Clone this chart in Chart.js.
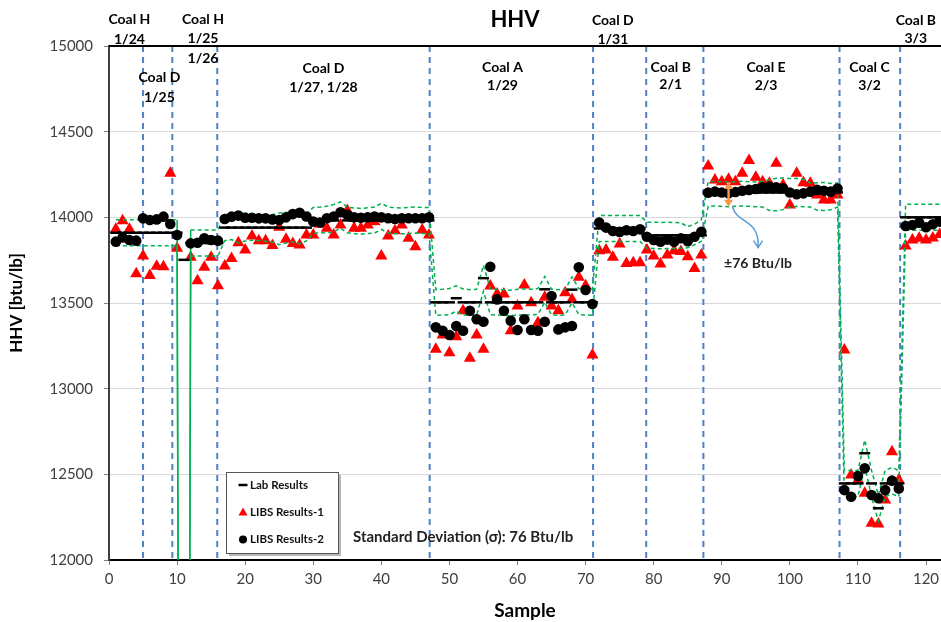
<!DOCTYPE html>
<html>
<head>
<meta charset="utf-8">
<title>HHV</title>
<script src="https://cdn.jsdelivr.net/npm/chart.js@4.4.1/dist/chart.umd.min.js"></script>
<style>
  html, body { margin: 0; padding: 0; background: #fff; overflow: hidden; }
  /* a little wider than the window: the plot runs off the right edge like the original */
  #wrap { position: relative; width: 949px; height: 622px; }
</style>
</head>
<body>
<div id="wrap"><canvas id="hhv-chart"></canvas></div>
<script>
// --- data (HHV in Btu/lb, one value per sample 1..122) ---
const samples = Array.from({ length: 122 }, (_, i) => i + 1);

const labResults = [
  13910, 13910, 13910, 13910, 13910, 13910, 13910, 13910, 13910, 13910, // 1-10
  13752,                                                                 // 11
  13850, 13850, 13850, 13850, 13850,                                     // 12-16
  13940, 13940, 13940, 13940, 13940, 13940, 13940, 13940, 13940, 13940, 13940, 13940, 13940, // 17-29
  13982, 13982, 13982, 13982, 14012, 13982, 13982, 13982, 13982, 13982, 14005, // 30-40
  13982, 13982, 13982, 13982, 13982, 13982, 13982,                       // 41-47
  13504, 13504, 13504, 13528, 13504, 13504, 13504, 13645, 13504, 13504, 13504, 13504, // 48-59
  13504, 13504, 13504, 13504, 13580, 13504, 13504, 13504, 13578, 13504, 13504, 13504, // 60-71
  13935, 13935, 13935, 13935, 13935, 13935, 13935,                       // 72-78
  13895, 13895, 13895, 13895, 13895, 13895, 13895, 13895, 13895,         // 79-87
  14145, 14145, 14145, 14145, 14145, 14145, 14145, 14145, 14145, 14145,  // 88-97
  14145, 14145, 14145, 14145, 14145, 14145, 14145, 14145, 14145, 14145,  // 98-107
  12447, 12447, 12447, 12623, 12447, 12302, 12447, 12447, 12447,         // 108-116
  14000, 14000, 14000, 14000, 14000, 14000                               // 117-122
];

const libsResults1 = [
  13930, 13980, 13930, 13670, 13775, 13660, 13715, 13712, 14257, 13819,  // 1-10
  null, 13767, 13630, 13708, 13767, 13600, 13716, 13760, 13852, 13809,   // 11-20
  13891, 13864, 13864, 13835, 13942, 13872, 13848, 13838, 13897, 13897,  // 21-30
  13960, 13936, 13897, 13955, 14040, 13936, 13936, 13955, 13974, 13774,  // 31-40
  13891, 13922, 13955, 13878, 13829, 13926, 13897,                       // 41-47
  13230, 13313, 13210, 13303, 13455, 13177, 13313, 13230, 13599, 13553,  // 48-57
  13553, 13338, 13482, 13605, 13502, 13385, 13533, 13482, 13455, 13560,  // 58-67
  13521, 13650, 13600, 13196,                                            // 68-71
  13805, 13809, 13767, 13844, 13731, 13735, 13735,                       // 72-78
  13809, 13774, 13727, 13780, 13805, 13800, 13770, 13702, 13780,         // 79-87
  14300, 14218, 14208, 14222, 14208, 14257, 14331, 14234, 14208, 14199,  // 88-97
  14315, 14189, 14072, 14257, 14202, 14199, 14130, 14101, 14101, 14130,  // 98-107
  13226, 12496, 12467, 12389, 12214, 12210, 12350, 12632, 12467,         // 108-116
  13833, 13868, 13878, 13868, 13880, 13900                               // 117-122
];

const libsResults2 = [
  13858, 13883, 13868, 13864, 13994, 13984, 13988, 14004, 13961, 13897,  // 1-10
  null, 13848, 13852, 13878, 13868, 13864, 13990, 14004, 14010, 13998,   // 11-20
  13998, 13994, 13994, 13988, 13984, 14000, 14019, 14027, 14005, 13975,  // 21-30
  13970, 13995, 14005, 14030, 14015, 14000, 13998, 14000, 14005, 14000,  // 31-40
  13995, 13990, 13995, 13995, 13995, 13995, 14000,                       // 41-47
  13358, 13338, 13313, 13366, 13338, 13455, 13405, 13391, 13712, 13521,  // 48-57
  13455, 13397, 13342, 13405, 13342, 13338, 13391, 13541, 13346, 13358,  // 58-67
  13366, 13708, 13576, 13494,                                            // 68-71
  13970, 13940, 13920, 13915, 13925, 13920, 13930,                       // 72-78
  13887, 13868, 13858, 13870, 13858, 13878, 13860, 13887, 13916,         // 79-87
  14144, 14150, 14145, 14140, 14148, 14155, 14160, 14165, 14175, 14179,  // 88-97
  14175, 14170, 14145, 14135, 14140, 14150, 14160, 14155, 14150, 14168,  // 98-107
  12408, 12369, 12490, 12535, 12379, 12360, 12408, 12463, 12418,         // 108-116
  13949, 13955, 13969, 13942, 13960, 13975                               // 117-122
];

// +/- sigma band around the lab values (green dashed lines)
const bandUpper = [
  13986, 13986, 13986, 13986, 13986, 13986, 13986, 13986, 13986, 13986,  // 1-10
  0, 13926, 13926, 13926, 13926, 13926,                                  // 11-16
  14016, 14016, 14020, 14025, 14018, 14016, 14014, 14016, 14025, 14030, 14022, 14018, 14020, // 17-29
  14058, 14060, 14064, 14075, 14090, 14060, 14055, 14052, 14056, 14060, 14082, // 30-40
  14060, 14056, 14055, 14058, 14060, 14058, 14058,                       // 41-47
  13578, 13580, 13585, 13600, 13582, 13578, 13580, 13720, 13582, 13580, 13578, 13575, // 48-59
  13580, 13582, 13580, 13585, 13655, 13580, 13578, 13580, 13652, 13585, 13580, 13580, // 60-71
  14010, 14010, 14010, 14010, 14010, 14010, 14010,                       // 72-78
  13972, 13972, 13970, 13972, 13970, 13968, 13945, 13960, 13985,         // 79-87
  14208, 14210, 14208, 14206, 14208, 14210, 14208, 14206, 14210, 14220,  // 88-97
  14228, 14230, 14226, 14228, 14222, 14200, 14202, 14204, 14198, 14200,  // 98-107
  12523, 12523, 12523, 12700, 12523, 12378, 12523, 12540, 12523,         // 108-116
  14076, 14076, 14076, 14076, 14076, 14076                               // 117-122
];

const bandLower = [
  13834, 13834, 13834, 13834, 13834, 13834, 13834, 13834, 13834, 13834,  // 1-10
  0, 13774, 13774, 13774, 13774, 13774,                                  // 11-16
  13864, 13870, 13850, 13862, 13866, 13864, 13860, 13855, 13840, 13850, 13858, 13845, 13862, // 17-29
  13906, 13910, 13908, 13915, 13936, 13910, 13905, 13902, 13906, 13908, 13930, // 30-40
  13908, 13905, 13904, 13906, 13908, 13906, 13906,                       // 41-47
  13428, 13430, 13432, 13452, 13430, 13428, 13430, 13569, 13432, 13430, 13428, 13426, // 48-59
  13430, 13432, 13430, 13434, 13504, 13430, 13428, 13430, 13502, 13432, 13430, 13428, // 60-71
  13859, 13859, 13859, 13859, 13859, 13859, 13859,                       // 72-78
  13818, 13818, 13816, 13818, 13818, 13820, 13822, 13840, 13860,         // 79-87
  14065, 14066, 14064, 14062, 14065, 14066, 14064, 14062, 14060, 14040,  // 88-97
  14038, 14045, 14060, 14064, 14062, 14060, 14042, 14040, 14044, 14060,  // 98-107
  12371, 12371, 12371, 12547, 12371, 12226, 12371, 12385, 12371,         // 108-116
  13924, 13924, 13924, 13924, 13924, 13924                               // 117-122
];

// sample positions of the blue dashed dividers between coal runs
const coalBoundaries = [5, 9.3, 15.9, 47.1, 71.1, 78.9, 87.3, 107.3, 116.2];

// coal run labels: [sample position of centre, text lines, y of first line in px, line step]
const coalLabels = [
  [3.0,   ['Coal H', '1/24'], 19, 20],
  [7.4,   ['Coal D', '1/25'], 77, 20],
  [13.8,  ['Coal H', '1/25', '1/26'], 19, 19.5],
  [31.5,  ['Coal D', '1/27, 1/28'], 68, 19],
  [57.8,  ['Coal A', '1/29'], 67, 18.5],
  [74.0,  ['Coal D', '1/31'], 20.5, 19],
  [82.5,  ['Coal B', '2/1'], 67, 17.5],
  [96.5,  ['Coal E', '2/3'], 67, 18],
  [111.7, ['Coal C', '3/2'], 67, 18],
  [118.5, ['Coal B', '3/3'], 20, 18.5]
];

const sigmaText = 'Standard Deviation (\u03c3): 76 Btu/lb';
const sigmaSample = 91; // where the +/- arrow is drawn

const FONT = "Lato, 'Open Sans', sans-serif";
Chart.defaults.font.family = FONT;

function pts(values) {
  return samples.map((s, i) => ({ x: s, y: values[i] }));
}

// --- decorations: dividers, frame, labels, legend, arrows ---
const overlay = {
  id: 'overlay',
  beforeDatasetsDraw(chart) {
    const { ctx, chartArea: a, scales: { x } } = chart;
    ctx.save();
    ctx.strokeStyle = '#4f81c4';
    ctx.lineWidth = 2;
    ctx.setLineDash([6, 5]);
    coalBoundaries.forEach(b => {
      const px = x.getPixelForValue(b);
      ctx.beginPath();
      ctx.moveTo(px, a.top);
      ctx.lineTo(px, a.bottom);
      ctx.stroke();
    });
    ctx.restore();
  },
  afterDraw(chart) {
    const { ctx, chartArea: a, scales: { x, y } } = chart;
    ctx.save();

    // top frame line
    ctx.strokeStyle = '#000';
    ctx.lineWidth = 2;
    ctx.beginPath();
    ctx.moveTo(a.left, a.top);
    ctx.lineTo(chart.width, a.top);
    ctx.stroke();

    // title
    ctx.fillStyle = '#000';
    ctx.textAlign = 'center';
    ctx.textBaseline = 'middle';
    ctx.font = 'bold 22px ' + FONT;
    ctx.fillText('HHV', 515, 20);

    // coal run labels
    ctx.font = 'bold 14px ' + FONT;
    coalLabels.forEach(([s, lines, top, step]) => {
      const px = x.getPixelForValue(s);
      lines.forEach((t, i) => ctx.fillText(t, px, top + i * step));
    });

    // +/- sigma arrow
    const ax = x.getPixelForValue(sigmaSample);
    const ay1 = y.getPixelForValue(bandUpper[sigmaSample - 1]);
    const ay2 = y.getPixelForValue(bandLower[sigmaSample - 1]);
    ctx.strokeStyle = '#f79646';
    ctx.fillStyle = '#f79646';
    ctx.lineWidth = 2.5;
    ctx.beginPath();
    ctx.moveTo(ax, ay1 + 5);
    ctx.lineTo(ax, ay2 - 5);
    ctx.stroke();
    [[ay1, 1], [ay2, -1]].forEach(([yy, d]) => {
      ctx.beginPath();
      ctx.moveTo(ax, yy);
      ctx.lineTo(ax - 4.5, yy + d * 7);
      ctx.lineTo(ax + 4.5, yy + d * 7);
      ctx.closePath();
      ctx.fill();
    });

    // curved pointer to the label
    ctx.strokeStyle = '#5b9bd5';
    ctx.lineWidth = 1.5;
    ctx.beginPath();
    ctx.moveTo(ax + 4, ay2);
    ctx.bezierCurveTo(ax + 8, ay2 + 17, ax + 31, ay2 + 12, ax + 29.5, ay2 + 40);
    ctx.stroke();
    ctx.beginPath();
    ctx.moveTo(ax + 25, ay2 + 34);
    ctx.lineTo(ax + 29.5, ay2 + 41);
    ctx.lineTo(ax + 34, ay2 + 34);
    ctx.stroke();

    ctx.fillStyle = '#222';
    ctx.font = 'bold 14px ' + FONT;
    ctx.fillText('\u00b176 Btu/lb', 758, 263);

    // standard deviation note
    ctx.textAlign = 'left';
    ctx.font = 'bold 15px ' + FONT;
    ctx.fillText(sigmaText, 353, 537);

    // legend box
    const L = 226, T = 472, W = 112, H = 81;
    ctx.fillStyle = 'rgba(0,0,0,0.28)';
    ctx.fillRect(L + 3, T + 3, W, H);
    ctx.fillStyle = '#fff';
    ctx.fillRect(L, T, W, H);
    ctx.strokeStyle = '#555';
    ctx.lineWidth = 1;
    ctx.strokeRect(L + 0.5, T + 0.5, W, H);

    const mx = 243;
    ctx.strokeStyle = '#000';
    ctx.lineWidth = 2.5;
    ctx.beginPath();
    ctx.moveTo(mx - 4.5, 485);
    ctx.lineTo(mx + 4.5, 485);
    ctx.stroke();
    ctx.fillStyle = '#ff0000';
    ctx.beginPath();
    ctx.moveTo(mx, 507.5);
    ctx.lineTo(mx - 4.5, 515.5);
    ctx.lineTo(mx + 4.5, 515.5);
    ctx.closePath();
    ctx.fill();
    ctx.fillStyle = '#000';
    ctx.beginPath();
    ctx.arc(mx, 539.5, 4, 0, Math.PI * 2);
    ctx.fill();

    ctx.fillStyle = '#111';
    ctx.font = 'bold 11.5px ' + FONT;
    ctx.fillText('Lab Results', 250, 485);
    ctx.fillText('LIBS Results-1', 250, 512.5);
    ctx.fillText('LIBS Results-2', 250, 539.5);

    ctx.restore();
  }
};

document.addEventListener('DOMContentLoaded', () => {
  const ctx = document.getElementById('hhv-chart').getContext('2d');
  new Chart(ctx, {
    type: 'scatter',
    data: {
      datasets: [
        {
          label: 'LIBS Results-2',
          data: pts(libsResults2),
          pointStyle: 'circle',
          pointRadius: 5.3,
          backgroundColor: '#000',
          borderColor: '#000',
          borderWidth: 0,
          order: 0
        },
        {
          label: 'Lab Results',
          data: pts(labResults),
          pointStyle: 'line',
          pointRadius: 5.5,
          borderColor: '#000',
          borderWidth: 2.5,
          order: 1
        },
        {
          label: '+sigma',
          type: 'line',
          data: pts(bandUpper),
          borderColor: '#00b050',
          borderWidth: 1.5,
          borderDash: [4, 3],
          pointRadius: 0,
          tension: 0,
          segment: { borderDash: c => (c.p0.parsed.y < 12000 || c.p1.parsed.y < 12000) ? [] : undefined },
          order: 2
        },
        {
          label: '-sigma',
          type: 'line',
          data: pts(bandLower),
          borderColor: '#00b050',
          borderWidth: 1.5,
          borderDash: [4, 3],
          pointRadius: 0,
          tension: 0,
          segment: { borderDash: c => (c.p0.parsed.y < 12000 || c.p1.parsed.y < 12000) ? [] : undefined },
          order: 2
        },
        {
          label: 'LIBS Results-1',
          data: pts(libsResults1),
          pointStyle: 'triangle',
          pointRadius: 7,
          backgroundColor: '#ff0000',
          borderColor: '#ff0000',
          borderWidth: 0,
          order: 3
        }
      ]
    },
    options: {
      responsive: true,
      maintainAspectRatio: false,
      animation: false,
      events: [],
      layout: { padding: { top: 46, left: 0, right: 0, bottom: 0 } },
      plugins: {
        legend: { display: false },
        title: { display: false },
        tooltip: { enabled: false }
      },
      scales: {
        x: {
          type: 'linear',
          min: 0,
          max: 122.2,
          ticks: { stepSize: 10, includeBounds: false, color: '#404040', font: { size: 15 }, padding: 5, maxRotation: 0 },
          grid: { drawOnChartArea: false, tickLength: 5, tickColor: '#7f7f7f' },
          border: { color: '#000', width: 2 },
          title: { display: true, text: 'Sample', color: '#000', font: { size: 19, weight: 'bold', lineHeight: 1.2 }, padding: 0 },
          afterFit: s => { s.height = 62; }
        },
        y: {
          min: 12000,
          max: 15000,
          ticks: { stepSize: 500, color: '#404040', font: { size: 15 }, padding: 11, callback: v => String(v) },
          grid: { color: '#d9d9d9', tickLength: 5, tickColor: '#7f7f7f' },
          border: { color: '#404040', width: 2 },
          title: { display: true, text: 'HHV [btu/lb]', color: '#000', font: { size: 17, weight: 'bold', lineHeight: 1.2 }, padding: { top: 6, bottom: 0 } },
          afterFit: s => { s.width = 109; }
        }
      }
    },
    plugins: [overlay]
  });
});
</script>
</body>
</html>
